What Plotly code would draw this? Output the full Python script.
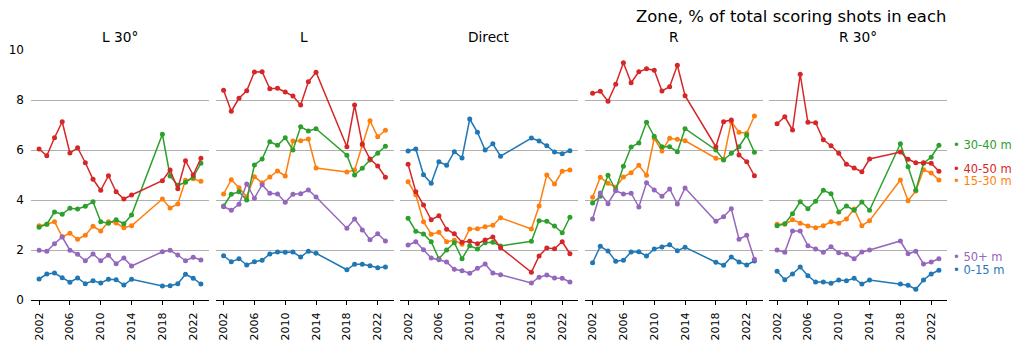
import plotly.graph_objects as go

# ---------------- data ----------------
years = [2002, 2003, 2004, 2005, 2006, 2007, 2008, 2009, 2010, 2011, 2012, 2013, 2014,
         2018, 2019, 2020, 2021, 2022, 2023]
panels = ["L 30°", "L", "Direct", "R", "R 30°"]
series_names = ["0-15 m", "15-30 m", "30-40 m", "40-50 m", "50+ m"]
x_tick_years = [2002, 2006, 2010, 2014, 2018, 2022]
y_ticks = [0, 2, 4, 6, 8, 10]
title_text = "Zone, % of total scoring shots in each"

# L 30°
l30_0_15 = [0.84, 1.04, 1.08, 0.89, 0.71, 0.88, 0.65, 0.77, 0.68, 0.83, 0.81, 0.60, 0.83,
            0.56, 0.57, 0.65, 1.03, 0.87, 0.64]
l30_15_30 = [2.97, 3.03, 3.13, 2.53, 2.67, 2.43, 2.59, 2.95, 2.76, 3.13, 3.08, 2.89, 2.97,
             4.04, 3.68, 3.84, 4.79, 4.85, 4.75]
l30_30_40 = [2.91, 3.03, 3.52, 3.43, 3.67, 3.64, 3.75, 3.93, 3.13, 3.07, 3.21, 3.05, 3.40,
             6.63, 4.96, 4.59, 4.71, 4.91, 5.47]
l30_40_50 = [6.04, 5.77, 6.49, 7.13, 5.88, 6.09, 5.49, 4.83, 4.39, 4.97, 4.33, 4.04, 4.20,
             4.77, 5.20, 4.45, 5.57, 5.00, 5.67]
l30_50p = [1.99, 1.95, 2.25, 2.52, 1.99, 1.83, 1.57, 1.84, 1.57, 1.79, 1.45, 1.68, 1.36,
           1.93, 1.99, 1.80, 1.57, 1.71, 1.60]

# L
l_0_15 = [1.77, 1.53, 1.65, 1.40, 1.53, 1.59, 1.84, 1.92, 1.91, 1.92, 1.72, 1.95, 1.87,
          1.21, 1.43, 1.43, 1.37, 1.29, 1.32]
l_15_30 = [4.24, 4.81, 4.49, 4.13, 4.93, 4.69, 4.92, 5.16, 4.96, 6.36, 6.37, 6.44, 5.28,
           5.12, 5.20, 6.19, 7.17, 6.53, 6.79]
l_30_40 = [3.76, 4.23, 4.33, 4.00, 5.40, 5.64, 6.33, 6.19, 6.49, 6.00, 6.93, 6.76, 6.85,
           5.79, 5.00, 5.27, 5.60, 5.87, 6.15]
l_40_50 = [8.39, 7.55, 8.07, 8.37, 9.12, 9.13, 8.45, 8.47, 8.32, 8.16, 7.80, 8.73, 9.11,
           6.13, 7.80, 6.24, 5.64, 5.36, 4.91]
l_50p = [3.73, 3.59, 3.83, 4.64, 4.07, 4.61, 4.27, 4.24, 3.91, 4.23, 4.25, 4.40, 4.12,
         2.87, 3.24, 2.80, 2.41, 2.65, 2.36]

# Direct
d_0_15 = [5.96, 6.04, 5.01, 4.67, 5.53, 5.39, 5.93, 5.68, 7.24, 6.71, 6.00, 6.25, 5.75,
          6.48, 6.36, 6.17, 5.92, 5.85, 5.97]
d_15_30 = [4.73, 4.21, 3.13, 2.63, 2.71, 2.33, 2.39, 2.23, 2.84, 2.85, 2.93, 2.99, 3.29,
           2.84, 3.76, 5.00, 4.64, 5.15, 5.20]
d_30_40 = [3.27, 2.75, 2.64, 2.33, 1.65, 2.00, 2.29, 1.65, 2.17, 2.04, 2.29, 2.31, 2.16,
           2.35, 3.17, 3.15, 2.96, 2.69, 3.31]
d_40_50 = [5.43, 4.33, 3.80, 3.21, 3.37, 2.83, 2.65, 2.31, 2.35, 2.25, 2.40, 2.52, 2.09,
           1.11, 1.76, 2.08, 2.05, 2.33, 1.85]
d_50p = [2.20, 2.33, 2.01, 1.68, 1.61, 1.52, 1.23, 1.17, 1.07, 1.27, 1.44, 1.08, 1.01,
         0.68, 0.91, 1.00, 0.88, 0.87, 0.72]

# R
r_0_15 = [1.49, 2.15, 1.96, 1.55, 1.59, 1.92, 1.93, 1.76, 2.04, 2.12, 2.21, 1.97, 2.11,
          1.51, 1.39, 1.72, 1.52, 1.40, 1.56]
r_15_30 = [4.11, 4.91, 4.67, 4.51, 4.92, 5.09, 5.39, 4.99, 6.47, 5.96, 6.47, 6.43, 6.37,
           5.67, 5.63, 7.13, 6.71, 6.67, 7.36]
r_30_40 = [3.88, 4.15, 4.99, 4.41, 5.35, 6.12, 6.28, 7.11, 6.55, 6.13, 6.13, 5.93, 6.85,
           6.00, 5.60, 5.87, 6.13, 6.60, 5.91]
r_40_50 = [8.27, 8.35, 7.95, 8.63, 9.49, 8.69, 9.13, 9.25, 9.19, 8.36, 8.53, 9.39, 8.17,
           6.13, 7.13, 7.20, 5.80, 5.53, 4.97]
r_50p = [3.24, 4.28, 3.85, 4.37, 4.24, 4.27, 3.72, 4.69, 4.40, 4.15, 4.44, 3.84, 4.48,
         3.15, 3.33, 3.65, 2.43, 2.59, 1.63]

# R 30°
r30_0_15 = [1.15, 0.81, 1.04, 1.32, 0.97, 0.72, 0.72, 0.67, 0.80, 0.77, 0.87, 0.64, 0.80,
            0.64, 0.59, 0.43, 0.80, 1.04, 1.19]
r30_15_30 = [3.03, 3.03, 3.21, 3.07, 2.96, 2.89, 2.97, 3.13, 3.07, 3.24, 3.64, 2.97, 3.17,
             4.80, 3.97, 4.36, 5.21, 5.08, 4.80]
r30_30_40 = [2.97, 3.05, 3.45, 3.93, 3.65, 3.95, 4.39, 4.25, 3.52, 3.76, 3.59, 3.92, 3.59,
             6.25, 5.33, 4.39, 5.47, 5.71, 6.19]
r30_40_50 = [7.05, 7.33, 6.80, 9.03, 7.11, 7.09, 6.41, 6.17, 5.87, 5.43, 5.28, 5.13, 5.64,
             5.92, 5.63, 5.49, 5.49, 5.47, 5.15]
r30_50p = [2.00, 1.91, 2.76, 2.76, 2.17, 2.04, 1.91, 2.13, 1.89, 1.83, 1.65, 1.92, 2.00,
           2.36, 1.85, 1.95, 1.44, 1.52, 1.65]

panel_data = [
    [l30_0_15, l30_15_30, l30_30_40, l30_40_50, l30_50p],
    [l_0_15, l_15_30, l_30_40, l_40_50, l_50p],
    [d_0_15, d_15_30, d_30_40, d_40_50, d_50p],
    [r_0_15, r_15_30, r_30_40, r_40_50, r_50p],
    [r30_0_15, r30_15_30, r30_30_40, r30_40_50, r30_50p],
]

# ---------------- style ----------------
colors = ["#1f77b4", "#ff7f0e", "#2ca02c", "#d62728", "#9467bd"]
FONT = "DejaVu Sans"
W, H = 1021, 347
panel_left = [31, 215.5, 400, 584.5, 769]
panel_width = 178
plot_top, plot_bottom = 50, 300
label_yshift = [0, -1, 0, 2, 2]

fig = go.Figure()

for p, pdata in enumerate(panel_data):
    ax = "" if p == 0 else str(p + 1)
    for s, vals in enumerate(pdata):
        fig.add_trace(go.Scatter(
            x=years, y=vals, mode="lines+markers",
            line=dict(color=colors[s], width=1.5),
            marker=dict(color=colors[s], size=5),
            xaxis="x" + ax, yaxis="y" + ax,
            showlegend=False, name=series_names[s],
            hoverinfo="x+y+name",
        ))

layout = dict(
    width=W, height=H,
    margin=dict(l=0, r=0, t=0, b=0, autoexpand=False),
    paper_bgcolor="white", plot_bgcolor="white",
    font=dict(family=FONT, color="black"),
    showlegend=False,
)

annotations = []
for p in range(5):
    ax = "" if p == 0 else str(p + 1)
    x0 = panel_left[p] / W
    x1 = (panel_left[p] + panel_width) / W
    layout["xaxis" + ax] = dict(
        domain=[x0, x1], range=[2000.95, 2024.05],
        tickvals=x_tick_years, ticktext=[str(v) for v in x_tick_years],
        tickangle=-90, ticks="outside", ticklen=4, tickwidth=1, tickcolor="black",
        showline=True, linecolor="black", linewidth=1,
        showgrid=False, zeroline=False, anchor="y" + ax,
        tickfont=dict(size=11, family=FONT, color="black"),
        ticklabelstandoff=3, automargin=False, fixedrange=True,
    )
    layout["yaxis" + ax] = dict(
        domain=[(H - plot_bottom) / H, (H - plot_top) / H], range=[0, 10],
        tickvals=y_ticks, showticklabels=(p == 0),
        showgrid=True, gridcolor="#b0b0b0", gridwidth=0.8,
        zeroline=False, showline=False, ticks="", anchor="x" + ax,
        tickfont=dict(size=12, family=FONT, color="black"),
        ticklabelstandoff=6, automargin=False, fixedrange=True,
    )
    annotations.append(dict(
        text=panels[p], x=(x0 + x1) / 2, y=(H - 37) / H,
        xref="paper", yref="paper", xanchor="center", yanchor="middle",
        showarrow=False, font=dict(size=13.7, family=FONT, color="black"),
    ))

# end labels next to R 30° panel
last_panel = panel_data[-1]
for s in range(5):
    annotations.append(dict(
        text="• " + series_names[s], x=years[-1], y=last_panel[s][-1],
        xref="x5", yref="y5", xanchor="left", yanchor="middle",
        xshift=12, yshift=label_yshift[s],
        showarrow=False, font=dict(size=11.5, family=FONT, color=colors[s]),
    ))

annotations.append(dict(
    text=title_text, x=948 / W, y=(H - 16.5) / H, xref="paper", yref="paper",
    xanchor="right", yanchor="middle", showarrow=False,
    font=dict(size=16.4, family=FONT, color="black"),
))

layout["annotations"] = annotations
fig.update_layout(**layout)
fig.write_html("out.html")
